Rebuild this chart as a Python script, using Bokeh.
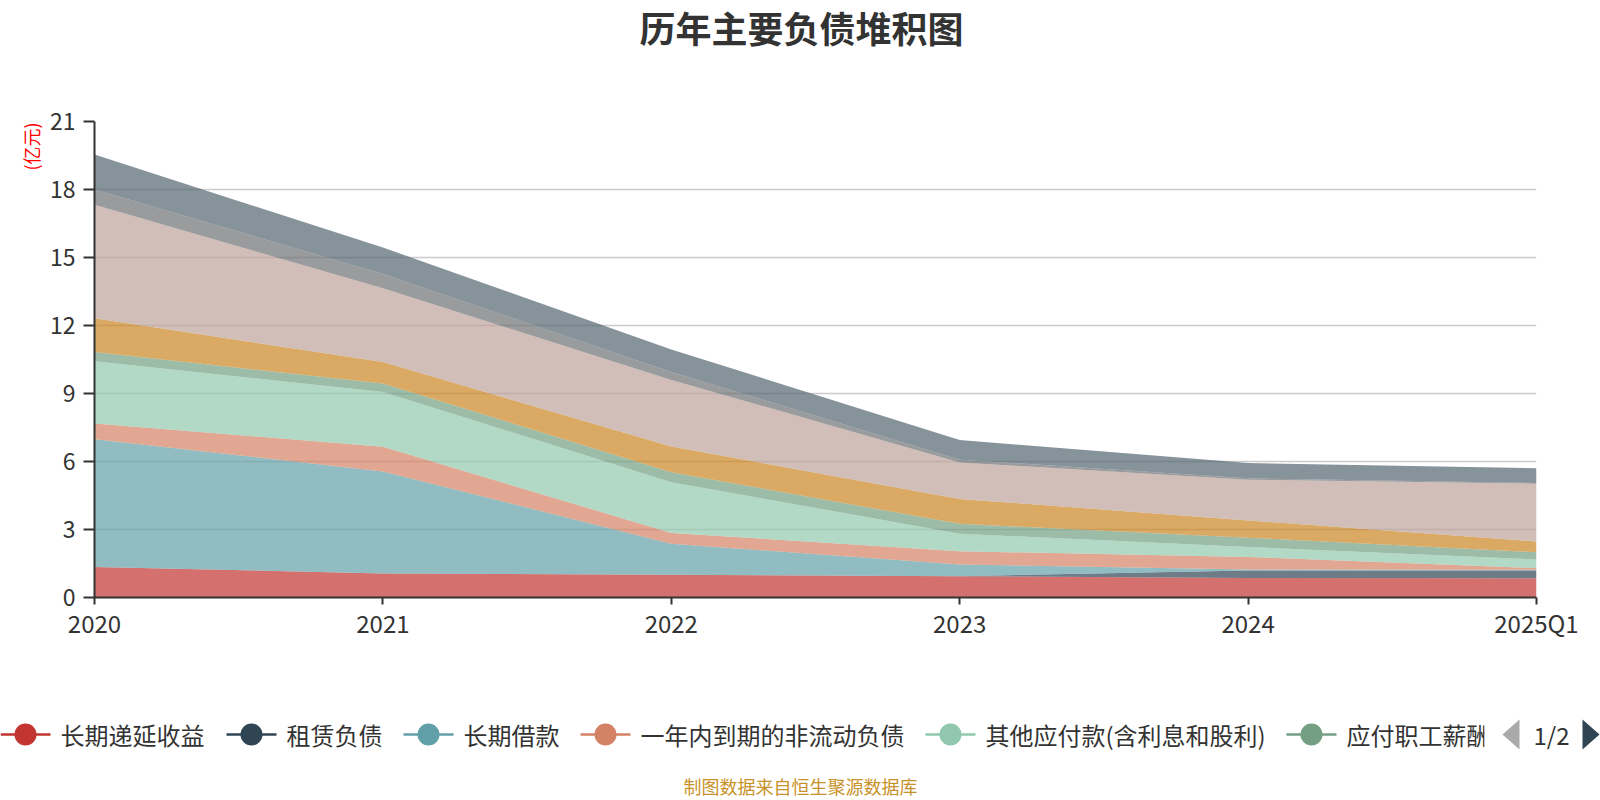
from bokeh.plotting import figure
from bokeh.models import Range1d, FixedTicker, ColumnDataSource
from bokeh.layouts import column, row
from bokeh.embed import file_html
from bokeh.resources import INLINE
from bokeh.core.properties import value
import math

# ---------------- data ----------------
years = ["2020", "2021", "2022", "2023", "2024", "2025Q1"]

long_deferred_income = [1.35, 1.06, 1.00, 0.94, 0.86, 0.85]      # 长期递延收益
lease_liabilities = [0.00, 0.00, 0.00, 0.00, 0.33, 0.34]         # 租赁负债
long_term_loans = [5.63, 4.50, 1.37, 0.52, 0.05, 0.03]           # 长期借款
current_noncurrent_due = [0.70, 1.09, 0.48, 0.58, 0.55, 0.08]    # 一年内到期的非流动负债
other_payables = [2.74, 2.42, 2.24, 0.77, 0.44, 0.38]            # 其他应付款(含利息和股利)
payroll_payable = [0.41, 0.37, 0.44, 0.44, 0.41, 0.32]           # 应付职工薪酬
taxes_payable = [1.49, 0.95, 1.13, 1.10, 0.76, 0.47]             # 应交税费
accounts_payable = [5.01, 3.25, 2.94, 1.61, 1.80, 2.55]          # 应付账款
contract_liabilities = [0.67, 0.63, 0.35, 0.12, 0.06, 0.03]      # 合同负债
notes_payable = [1.54, 1.17, 0.99, 0.87, 0.67, 0.65]             # 应付票据

series_names = ["长期递延收益", "租赁负债", "长期借款", "一年内到期的非流动负债",
                "其他应付款(含利息和股利)", "应付职工薪酬", "应交税费", "应付账款",
                "合同负债", "应付票据"]
series_values = [long_deferred_income, lease_liabilities, long_term_loans,
                 current_noncurrent_due, other_payables, payroll_payable,
                 taxes_payable, accounts_payable, contract_liabilities, notes_payable]
series_colors = ["#c23531", "#2f4554", "#61a0a8", "#d48265", "#91c7ae",
                 "#749f83", "#ca8622", "#bda29a", "#6e7074", "#546570"]

y_ticks = [0, 3, 6, 9, 12, 15, 18, 21]
title_text = "历年主要负债堆积图"
unit_text = "(亿元)"
footer_text = "制图数据来自恒生聚源数据库"
page_text = "1/2"
legend_count = 6

# ---------------- layout (screenshot pixels) ----------------
FONT = "Noto Sans CJK SC"
W, H = 1600, 800
TITLE_H = 100
LEG_TOP = 708
UNIT_W = 46
MAIN_H = LEG_TOP - TITLE_H
FRAME_L, FRAME_R, FRAME_T, FRAME_B = 93, 1536, 121, 597


def no_align(fig):
    try:
        fig.frame_align = False
    except Exception:
        pass
    return fig


def strip(x0, x1, y0, y1):
    f = figure(width=x1 - x0, height=y1 - y0, output_backend="svg", toolbar_location=None,
               x_range=Range1d(x0, x1), y_range=Range1d(y1, y0), min_border=0,
               x_axis_location=None, y_axis_location=None,
               background_fill_color="white", border_fill_color="white")
    f.outline_line_color = None
    f.grid.visible = False
    return no_align(f)


# title strip
tp = strip(0, W, 0, TITLE_H)
tp.text(x=[801], y=[26], text=[title_text], text_font=value(FONT), text_font_size="36px",
        text_font_style="bold", text_color="#333333", text_align="center",
        text_baseline="middle")

# unit strip (left of chart)
up = strip(0, UNIT_W, TITLE_H, LEG_TOP)
up.text(x=[30], y=[146], text=[unit_text], angle=math.pi / 2, text_font=value(FONT),
        text_font_size="18px", text_color="#ff0000", text_align="center",
        text_baseline="middle")

# main chart
xs = list(range(len(years)))
data = {"x": xs}
for name, vals in zip(series_names, series_values):
    data[name] = vals
source = ColumnDataSource(data)

p = figure(width=W - UNIT_W, height=MAIN_H, output_backend="svg", toolbar_location=None,
           x_range=Range1d(0, len(years) - 1), y_range=Range1d(y_ticks[0], y_ticks[-1]),
           min_border_left=FRAME_L - UNIT_W, min_border_right=W - FRAME_R,
           min_border_top=FRAME_T - TITLE_H, min_border_bottom=LEG_TOP - FRAME_B,
           background_fill_color="white", border_fill_color="white")
p.outline_line_color = None
no_align(p)

p.varea_stack(stackers=series_names, x="x", fill_color=series_colors,
              fill_alpha=0.7, source=source)

p.xaxis.ticker = FixedTicker(ticks=xs)
p.xaxis.major_label_overrides = {i: y for i, y in enumerate(years)}
p.yaxis.ticker = FixedTicker(ticks=y_ticks)
p.ygrid.ticker = FixedTicker(ticks=y_ticks)
for ax in (p.xaxis, p.yaxis):
    ax.axis_line_color = "#333333"
    ax.axis_line_width = 2
    ax.major_tick_line_color = "#333333"
    ax.major_tick_line_width = 2
    ax.major_tick_in = 0
    ax.minor_tick_line_color = None
    ax.major_label_text_font = FONT
    ax.major_label_text_color = "#333333"
p.xaxis.major_label_text_font_size = "24px"
p.yaxis.major_label_text_font_size = "23px"
p.xaxis.major_tick_out = 7
p.xaxis.major_label_standoff = 0
p.yaxis.major_tick_out = 11
p.yaxis.major_label_standoff = 8

p.xgrid.grid_line_color = None
p.ygrid.grid_line_color = "#cccccc"
p.ygrid.grid_line_width = 1.5

# legend strip
lp = strip(0, W, LEG_TOP, H)
LEG_Y = 734
icon_x = [0, 226, 403, 580, 925, 1286]
ICON_W = 50
TEXT_OFF = 60

leg_names = series_names[:legend_count]
leg_colors = series_colors[:legend_count]
lsrc = ColumnDataSource(dict(
    x0=icon_x, x1=[x + ICON_W for x in icon_x], xc=[x + ICON_W / 2 for x in icon_x],
    xt=[x + TEXT_OFF for x in icon_x], y=[LEG_Y] * legend_count,
    name=leg_names, color=leg_colors))
lp.segment(x0="x0", y0="y", x1="x1", y1="y", line_color="color", line_width=2.5, source=lsrc)
lp.scatter(x="xc", y="y", size=22, marker="circle", fill_color="color",
           line_color=None, source=lsrc)
lp.text(x="xt", y="y", text="name", text_font=value(FONT), text_font_size="24px",
        text_color="#333333", text_baseline="middle", text_align="left", source=lsrc)
# legend clip box (legend is scrolled / clipped before the pager)
lp.quad(left=[1484], right=[1500], top=[712], bottom=[756], fill_color="white", line_color=None)
# pager
lp.patch(x=[1519, 1519, 1502], y=[719, 749, 734], fill_color="#aaaaaa", line_color=None)
lp.patch(x=[1582, 1582, 1599], y=[719, 749, 734], fill_color="#2f4554", line_color=None)
lp.text(x=[1533], y=[LEG_Y], text=[page_text], text_font=value(FONT), text_font_size="24px",
        text_color="#333333", text_baseline="middle", text_align="left")
# footer
lp.text(x=[800], y=[785], text=[footer_text], text_font=value(FONT), text_font_size="18px",
        text_color="#c8922a", text_baseline="middle", text_align="center")

layout = column(tp, row(up, p, spacing=0), lp, spacing=0)
open("out.html", "w").write(file_html(layout, INLINE))
